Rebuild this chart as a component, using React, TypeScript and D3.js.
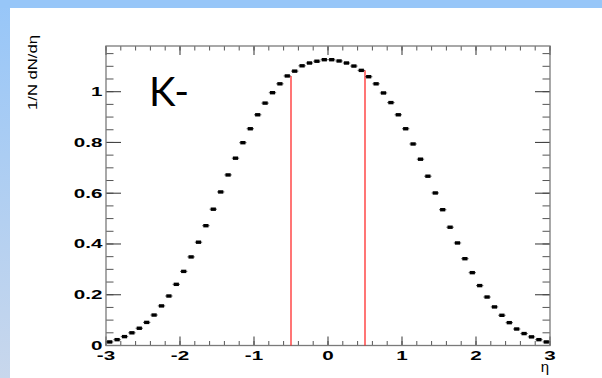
import React from "react";
import * as d3 from "d3";

// Pseudorapidity distribution of K- : 60 bins of width 0.1 over [-3, 3]
const etaMin = -3;
const etaMax = 3;
const binWidth = 0.1;
const dNdEta = [
  0.014, 0.023, 0.035, 0.05, 0.068, 0.091, 0.12, 0.156, 0.195, 0.241,
  0.292, 0.349, 0.407, 0.472, 0.537, 0.605, 0.672, 0.738, 0.799, 0.854,
  0.909, 0.955, 0.996, 1.031, 1.062, 1.081, 1.102, 1.113, 1.12, 1.126,
  1.126, 1.121, 1.113, 1.101, 1.084, 1.059, 1.031, 0.995, 0.957, 0.909,
  0.854, 0.794, 0.734, 0.667, 0.601, 0.535, 0.466, 0.404, 0.342, 0.287,
  0.236, 0.191, 0.152, 0.119, 0.09, 0.065, 0.047, 0.034, 0.023, 0.014,
];
const etaCuts = [-0.5, 0.5];
const xTickLabels = [-3, -2, -1, 0, 1, 2, 3];
const yTickLabels = [0, 0.2, 0.4, 0.6, 0.8, 1];
const particle = "K-";

const W = 602;
const H = 378;
const frame = { left: 106, right: 550, top: 46, bottom: 345.5 };
const yMax = 1.18;

const x = d3.scaleLinear().domain([etaMin, etaMax]).range([frame.left, frame.right]);
const y = d3.scaleLinear().domain([0, yMax]).range([frame.bottom, frame.top]);

const labelFont = "'Liberation Sans', Arial, Helvetica, sans-serif";
const stretch = 1.65;

export default function App() {
  const xMinor = d3.range(etaMin, etaMax + 1e-9, 0.2).map((v) => +v.toFixed(2));
  const yMinor = d3.range(0, yMax, 0.05).map((v) => +v.toFixed(2));
  const fmt = (v: number) => (v === 0 ? "0" : String(v));

  const points = dNdEta.map((v, i) => ({
    c: etaMin + binWidth * (i + 0.5),
    v,
  }));

  // cut lines rise to the bin that ends at the cut position
  const cutLines = etaCuts.map((c) => {
    const idx = Math.round((c - etaMin) / binWidth) - 1;
    return { c, v: dNdEta[idx] };
  });

  return (
    <svg
      width={W}
      height={H}
      style={{ position: "absolute", left: 0, top: 0, display: "block" }}
    >
      <defs>
        <linearGradient id="edge" x1="0" y1="0" x2="0" y2="1">
          <stop offset="0" stopColor="#97c6f8" />
          <stop offset="1" stopColor="#c8d7ec" />
        </linearGradient>
      </defs>
      <rect x={0} y={0} width={W} height={H} fill="#ffffff" />
      <rect x={0} y={0} width={10} height={H} fill="url(#edge)" />
      <rect x={0} y={0} width={W} height={8} fill="#97c6f8" />

      {/* minor ticks */}
      <g stroke="#555" strokeWidth={1}>
        {xMinor.map((t) => (
          <g key={"xm" + t}>
            <line x1={x(t)} x2={x(t)} y1={frame.bottom} y2={frame.bottom - 4.5} />
            <line x1={x(t)} x2={x(t)} y1={frame.top} y2={frame.top + 4.5} />
          </g>
        ))}
        {yMinor.map((t) => (
          <g key={"ym" + t}>
            <line x1={frame.left} x2={frame.left + 7.5} y1={y(t)} y2={y(t)} />
            <line x1={frame.right} x2={frame.right - 7.5} y1={y(t)} y2={y(t)} />
          </g>
        ))}
      </g>

      {/* major ticks */}
      <g stroke="#444" strokeWidth={1.1}>
        {xTickLabels.map((t) => (
          <g key={"xM" + t}>
            <line x1={x(t)} x2={x(t)} y1={frame.bottom} y2={frame.bottom - 9} />
            <line x1={x(t)} x2={x(t)} y1={frame.top} y2={frame.top + 9} />
          </g>
        ))}
        {yTickLabels.map((t) => (
          <g key={"yM" + t}>
            <line x1={frame.left} x2={frame.left + 15} y1={y(t)} y2={y(t)} />
            <line x1={frame.right} x2={frame.right - 15} y1={y(t)} y2={y(t)} />
          </g>
        ))}
      </g>

      {/* frame */}
      <rect
        x={frame.left}
        y={frame.top}
        width={frame.right - frame.left}
        height={frame.bottom - frame.top}
        fill="none"
        stroke="#7a7a7a"
        strokeWidth={1.3}
      />

      {/* eta cuts */}
      {cutLines.map((l) => (
        <line
          key={"cut" + l.c}
          x1={x(l.c)}
          x2={x(l.c)}
          y1={frame.bottom}
          y2={y(l.v)}
          stroke="#ff1a1a"
          strokeWidth={1.2}
        />
      ))}

      {/* data points with bin-width error bars */}
      <g>
        {points.map((p) => (
          <g key={"p" + p.c.toFixed(2)}>
            <line
              x1={x(p.c - binWidth / 2)}
              x2={x(p.c + binWidth / 2)}
              y1={y(p.v)}
              y2={y(p.v)}
              stroke="#333"
              strokeWidth={0.8}
            />
            <rect x={x(p.c) - 2.6} y={y(p.v) - 1.7} width={5.2} height={3.4} fill="#000" />
          </g>
        ))}
      </g>

      {/* tick labels */}
      <g fontFamily={labelFont} fontWeight="bold" fontSize={12.5} fill="#000">
        {xTickLabels.map((t) => (
          <text
            key={"xl" + t}
            transform={`translate(${x(t)},${frame.bottom + 14.5}) scale(${stretch},1)`}
            textAnchor="middle"
          >
            {fmt(t)}
          </text>
        ))}
        {yTickLabels.map((t) => (
          <text
            key={"yl" + t}
            transform={`translate(${frame.left - 3.5},${y(t) + 4.5}) scale(${stretch},1)`}
            textAnchor="end"
          >
            {fmt(t)}
          </text>
        ))}
      </g>

      {/* axis titles */}
      <text
        transform={`translate(36.5,35) rotate(-90)`}
        textAnchor="end"
        fontFamily={labelFont}
        fontSize={12}
        textLength={75}
        lengthAdjust="spacingAndGlyphs"
        fill="#000"
      >
        1/N dN/dη
      </text>
      <text
        x={549}
        y={372}
        textAnchor="end"
        fontFamily={labelFont}
        fontSize={15}
        fill="#000"
      >
        η
      </text>

      {/* particle label */}
      <text x={149} y={106} fontFamily="Lato, 'Open Sans', sans-serif" fontSize={40} fill="#000">
        {particle}
      </text>
    </svg>
  );
}
